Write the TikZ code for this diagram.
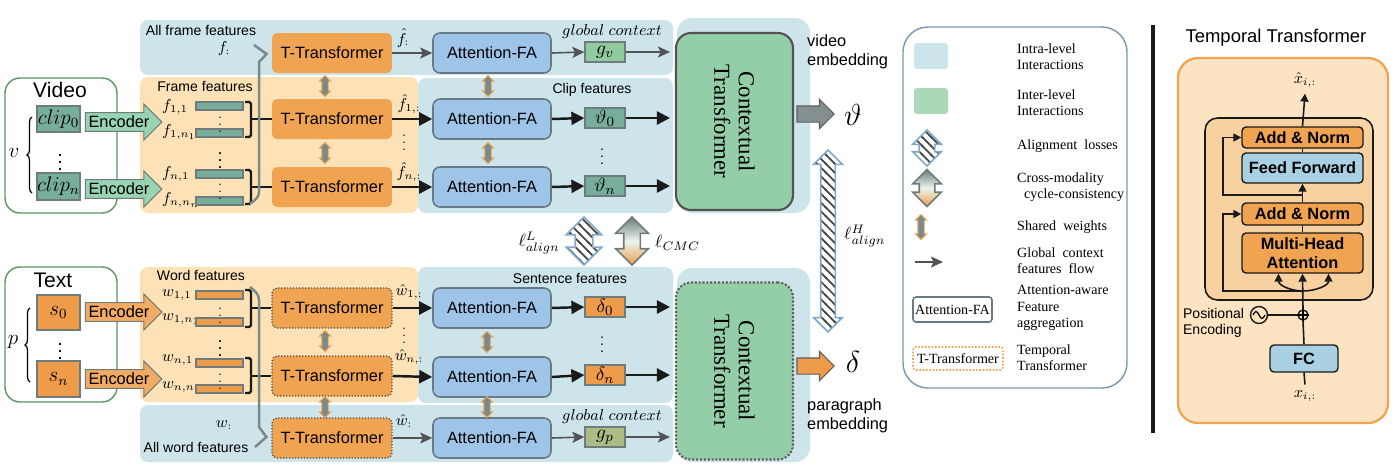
\documentclass[tikz,border=0pt]{standalone}
\usepackage{amsmath}
\usepackage{fontspec}
\setmainfont{Liberation Sans}
\newfontfamily\legendfont{Liberation Serif}
\usetikzlibrary{arrows.meta,calc,positioning,shapes.arrows,patterns,decorations.pathreplacing}
\definecolor{RegionBlue}{HTML}{CDE5EA}
\definecolor{RegionOrange}{HTML}{FCE2B6}
\definecolor{TOrange}{HTML}{F0A452}
\definecolor{AttnBlue}{HTML}{9EC5E8}
\definecolor{AttnEdge}{HTML}{667985}
\definecolor{CTGreen}{HTML}{93CEA9}
\definecolor{Ink}{HTML}{1A1A1A}
\definecolor{Teal}{HTML}{77AD9B}
\definecolor{EdgeGray}{HTML}{6E7C7C}
\definecolor{EncGreen}{HTML}{98D3B2}
\definecolor{SOrange}{HTML}{EE9C4A}
\definecolor{GGreen}{HTML}{8FCB9F}
\definecolor{AlignBlue}{HTML}{7FA9CC}
\definecolor{PanelOrange}{HTML}{FCE4C2}
\definecolor{FFBlue}{HTML}{A9D1E3}
\newcommand{\lblsize}{\fontsize{9.3}{11}\selectfont}
\newcommand{\regsize}{\fontsize{8}{9.5}\selectfont}
\newcommand{\mathsize}{\fontsize{9}{11}\selectfont}
\newcommand{\legsize}{\legendfont\fontsize{8}{9.3}\selectfont}
\pgfdeclarepatternformonly{alignstripes}{\pgfqpoint{-1pt}{-1pt}}{\pgfqpoint{6pt}{6pt}}{\pgfqpoint{5pt}{5pt}}{%
  \pgfsetlinewidth{1pt}
  \pgfpathmoveto{\pgfqpoint{-0.5pt}{5.5pt}}
  \pgfpathlineto{\pgfqpoint{5.5pt}{-0.5pt}}
  \pgfusepath{stroke}}

\begin{document}
\begin{tikzpicture}[x=0.02cm,y=-0.02cm,
    ttrans/.style={fill=TOrange,rounded corners=0.1cm,minimum width=2.4cm,minimum height=0.8cm,font=\lblsize},
    ttransdot/.style={ttrans,draw=Ink!80,densely dotted,line width=0.7pt},
    attnfa/.style={fill=AttnBlue,draw=AttnEdge,line width=0.9pt,rounded corners=0.14cm,minimum width=2.36cm,minimum height=0.8cm,font=\lblsize},
    featbox/.style={draw=EdgeGray,line width=0.7pt,minimum width=0.8cm,minimum height=0.4cm,inner sep=0pt,font=\fontsize{11}{13}\selectfont},
    bar/.style={draw=EdgeGray,line width=0.7pt,minimum width=0.94cm,minimum height=0.16cm,inner sep=0pt},
    inbox/.style={draw=EdgeGray,line width=0.7pt,minimum width=0.86cm,inner sep=0pt,font=\fontsize{11.5}{13}\selectfont},
    flabel/.style={anchor=west,inner sep=0.5pt,font=\fontsize{8.6}{10}\selectfont},
    encarrow/.style={single arrow,draw=EdgeGray,line width=0.6pt,minimum height=1.36cm,minimum width=0.72cm,single arrow head extend=0.17cm,inner sep=1.5pt,font=\lblsize},
    outarrow/.style={single arrow,draw=Ink!70,line width=0.6pt,minimum height=0.74cm,minimum width=0.56cm,single arrow head extend=0.13cm,inner xsep=0pt,inner ysep=0.15cm},
    ctrans/.style={draw=Ink!75,line width=1.2pt,fill=CTGreen,rounded corners=0.3cm,minimum width=2.34cm,minimum height=3.54cm},
    flow/.style={-{Triangle[length=0.26cm,width=0.26cm]},line width=1.4pt,Ink},
    gflow/.style={-{Stealth[length=0.24cm,width=0.22cm,inset=0.05cm]},line width=0.9pt,Ink!75},
    brk/.style={line width=1.4pt,Ink,rounded corners=1pt},
    gather/.style={line width=0.05cm,EdgeGray!90},
    shared/.style={double arrow,rotate=90,fill=EdgeGray!90,draw=TOrange,line width=0.5pt,minimum height=0.42cm,minimum width=0.22cm,double arrow head extend=0.05cm,inner xsep=0pt,inner ysep=0.055cm},
    alignarrow/.style={double arrow,rotate=90,draw=AlignBlue,line width=0.9pt,pattern=alignstripes,pattern color=Ink!80,inner xsep=0pt},
    cmcarrow/.style={double arrow,rotate=90,draw=EdgeGray,line width=0.9pt,top color=EdgeGray,bottom color=SOrange,middle color=GGreen!20!white,inner xsep=0pt},
    legtext/.style={anchor=west,align=left,font=\legsize},
    tblock/.style={draw=Ink,line width=0.8pt,rounded corners=0.08cm,minimum width=2.42cm,font=\bfseries\lblsize,inner sep=0pt},
    tarrow/.style={-{Triangle[length=0.16cm,width=0.16cm]},line width=0.9pt,Ink},
    tline/.style={line width=0.9pt,Ink}]
  \useasboundingbox (0,0) rectangle (1400,471);

  % interaction regions
  \fill[RegionBlue,rounded corners=0.16cm] (140,20) rectangle (673,75);
  \fill[RegionOrange,rounded corners=0.16cm] (140,77) rectangle (418,213);
  \fill[RegionBlue,rounded corners=0.16cm] (418,78) rectangle (673,213);
  \fill[RegionBlue,rounded corners=0.3cm] (677,18) rectangle (810,213);
  \fill[RegionOrange,rounded corners=0.16cm] (140,267) rectangle (418,402);
  \fill[RegionBlue,rounded corners=0.16cm] (418,267) rectangle (673,403);
  \fill[RegionBlue,rounded corners=0.16cm] (140,405) rectangle (673,462);
  \fill[RegionBlue,rounded corners=0.3cm] (677,268) rectangle (810,462);

  \node[font=\regsize] (allf) at (201,30) {All frame features};
  \node[font=\regsize] (framef) at (205,86) {Frame features};
  \node[font=\regsize] (clipf) at (592,90) {Clip features};
  \node[font=\regsize] (wordf) at (201,275) {Word features};
  \node[font=\regsize] (sentf) at (570,278) {Sentence features};
  \node[font=\regsize] (allw) at (196,447) {All word features};

  % inputs
  \draw[draw=EdgeGray!80!green,line width=0.8pt,fill=white,rounded corners=0.3cm] (5,78) rectangle (117,213);
  \draw[draw=EdgeGray!80!green,line width=0.8pt,fill=white,rounded corners=0.3cm] (5,267) rectangle (117,402);
  \node[font=\fontsize{12}{14}\selectfont] (video) at (60,90) {Video};
  \node[font=\fontsize{12}{14}\selectfont] (text) at (53,280) {Text};
  \node[inbox,fill=Teal,minimum height=0.52cm] (clip0) at (58.5,119) {$clip_0$};
  \node[inbox,fill=Teal,minimum height=0.54cm] (clipn) at (58.5,186.5) {$clip_n$};
  \node[inbox,fill=SOrange,minimum height=0.7cm] (s0) at (58.5,312.5) {$s_0$};
  \node[inbox,fill=SOrange,minimum height=0.72cm] (sn) at (58.5,379) {$s_n$};
  \node[font=\fontsize{11}{13}\selectfont] (cdots) at (60,157) {$\vdots$};
  \node[font=\fontsize{11}{13}\selectfont] (sdots) at (60,346) {$\vdots$};
  \draw[decorate,decoration={brace,amplitude=0.1cm},line width=0.7pt] (32,193) -- (32,117);
  \draw[decorate,decoration={brace,amplitude=0.1cm},line width=0.7pt] (30,382) -- (30,308);
  \node[font=\fontsize{13}{15}\selectfont] (vlab) at (14,153) {$v$};
  \node[font=\fontsize{13}{15}\selectfont] (plab) at (13,342) {$p$};

  \node[encarrow,fill=EncGreen] (enc1) at (119,122) {Encoder};
  \node[encarrow,fill=EncGreen] (enc2) at (119,189) {Encoder};
  \node[encarrow,fill=SOrange!85] (enc3) at (119,312) {Encoder};
  \node[encarrow,fill=SOrange!85] (enc4) at (119,379) {Encoder};

  % frame and word features
  \node[flabel] (f11) at (161,107) {$f_{1,1}$};
  \node[flabel] (f1n) at (161,132) {$f_{1,n_1}$};
  \node[flabel] (fn1) at (161,174) {$f_{n,1}$};
  \node[flabel] (fnn) at (161,200) {$f_{n,n_n}$};
  \node[bar,fill=Teal] (bf11) at (219.5,106) {};
  \node[bar,fill=Teal] (bf1n) at (219.5,133) {};
  \node[bar,fill=Teal] (bfn1) at (219.5,174) {};
  \node[bar,fill=Teal] (bfnn) at (219.5,201) {};
  \node[flabel] (w11) at (161,295) {$w_{1,1}$};
  \node[flabel] (w1n) at (161,319) {$w_{1,n_1}$};
  \node[flabel] (wn1) at (161,360) {$w_{n,1}$};
  \node[flabel] (wnn) at (161,387) {$w_{n,n_n}$};
  \node[bar,fill=SOrange] (bw11) at (219.5,295) {};
  \node[bar,fill=SOrange] (bw1n) at (219.5,322) {};
  \node[bar,fill=SOrange] (bwn1) at (219.5,363) {};
  \node[bar,fill=SOrange] (bwnn) at (219.5,389) {};
  \foreach \yy/\fs in {120/7,155/10,187/7,311/7,343/10,377/7}
    \node[font=\fontsize{\fs}{\fs}\selectfont,inner sep=0pt] at (220,\yy) {$\vdots$};
  \node[font=\mathsize] (fall) at (224,49) {$f_{:}$};
  \node[font=\mathsize] (wall) at (224,425) {$w_{:}$};

  % temporal transformers
  \node[ttrans] (tt0) at (332,53) {T-Transformer};
  \node[ttrans] (tt1) at (332,119) {T-Transformer};
  \node[ttrans] (tt2) at (332,187) {T-Transformer};
  \node[ttransdot] (tw1) at (332,308) {T-Transformer};
  \node[ttransdot] (tw2) at (332,376) {T-Transformer};
  \node[ttransdot] (tw0) at (332,438) {T-Transformer};

  \draw[brk] (245,102) -- (251,102) -- (251,137) -- (245,137);
  \draw[brk] (245,170) -- (251,170) -- (251,204) -- (245,204);
  \draw[brk] (245,290) -- (251,290) -- (251,327) -- (245,327);
  \draw[brk] (245,358) -- (251,358) -- (251,393) -- (245,393);
  \coordinate (g1) at (251,119);
  \coordinate (g2) at (251,187);
  \coordinate (g3) at (251,308);
  \coordinate (g4) at (251,376);
  \draw[brk] (g1) -- (tt1.west);
  \draw[brk] (g2) -- (tt2.west);
  \draw[brk] (g3) -- (tw1.west);
  \draw[brk] (g4) -- (tw2.west);
  \draw[gather] (254,45) -- ($(tt0.west)+(-5,1)$) -- (259,62) -- (259,192) to[out=-90,in=40] (250,204);
  \draw[gather] (250,287) to[out=-40,in=90] (259,300) -- (259,427) -- ($(tw0.west)+(-5,-1)$) -- (255,447);

  % attention-aware feature aggregation
  \node[attnfa] (af0) at (492,53) {Attention-FA};
  \node[attnfa] (af1) at (492,119) {Attention-FA};
  \node[attnfa] (af2) at (492,187) {Attention-FA};
  \node[attnfa] (aw1) at (492,308) {Attention-FA};
  \node[attnfa] (aw2) at (492,377) {Attention-FA};
  \node[attnfa] (aw0) at (492,438) {Attention-FA};

  \foreach \xx/\yy in {325/86,325/153,488/86,488/153,325/341,325/407,487/342,487/407}
    \node[shared] at (\xx,\yy) {};

  \draw[gflow] (tt0.east) -- (af0.west);
  \draw[flow] (tt1.east) -- (af1.west);
  \draw[flow] (tt2.east) -- (af2.west);
  \draw[flow] (tw1.east) -- (aw1.west);
  \draw[flow] (tw2.east) -- (aw2.west);
  \draw[gflow] (tw0.east) -- (aw0.west);
  \node[font=\mathsize,inner sep=1pt] (hf0) at (403,38) {$\hat{f}_{:}$};
  \node[font=\mathsize,inner sep=1pt] (hf1) at (409,104) {$\hat{f}_{1,:}$};
  \node[font=\mathsize,inner sep=1pt] (hf2) at (409,172) {$\hat{f}_{n,:}$};
  \node[font=\mathsize,inner sep=1pt] (hw1) at (409,292) {$\hat{w}_{1,:}$};
  \node[font=\mathsize,inner sep=1pt] (hw2) at (409,357) {$\hat{w}_{n,:}$};
  \node[font=\mathsize,inner sep=1pt] (hw0) at (404,421) {$\hat{w}_{:}$};
  \node[font=\fontsize{7}{7}\selectfont,inner sep=0pt] at (404,138) {$\vdots$};
  \node[font=\fontsize{7}{7}\selectfont,inner sep=0pt] at (404,331) {$\vdots$};

  % clip, sentence and global features
  \node[featbox,fill=GGreen] (gv) at (605,52) {$g_{v}$};
  \node[featbox,fill=Teal] (v0) at (605,118) {$\vartheta_0$};
  \node[featbox,fill=Teal] (vn) at (605,186) {$\vartheta_n$};
  \node[featbox,fill=SOrange] (d0) at (605,307) {$\delta_0$};
  \node[featbox,fill=SOrange] (dn) at (605,375) {$\delta_n$};
  \node[featbox,fill=GGreen!70!SOrange] (gp) at (605,437) {$g_{p}$};
  \node[font=\fontsize{8}{8}\selectfont,inner sep=0pt] at (602,151) {$\vdots$};
  \node[font=\fontsize{8}{8}\selectfont,inner sep=0pt] at (602,339) {$\vdots$};
  \node[font=\mathsize] (gctx1) at (612,32) {$global\ context$};
  \node[font=\mathsize] (gctx2) at (612,417) {$global\ context$};

  % contextual transformers
  \node[ctrans] (ctv) at (734.5,121.5) {};
  \node[ctrans,draw=Ink!70,densely dotted] (ctp) at (734.5,371) {};
  \node[rotate=-90,align=center,font=\legendfont\fontsize{13}{14}\selectfont] at (ctv.center) {Contextual\\Transformer};
  \node[rotate=-90,align=center,font=\legendfont\fontsize{13}{14}\selectfont] at (ctp.center) {Contextual\\Transformer};

  \draw[gflow] (af0.east) -- (gv.west);
  \draw[flow] (af1.east) -- (v0.west);
  \draw[flow] (af2.east) -- (vn.west);
  \draw[flow] (aw1.east) -- (d0.west);
  \draw[flow] (aw2.east) -- (dn.west);
  \draw[gflow] (aw0.east) -- (gp.west);
  \draw[gflow,shorten >=0.1cm] (gv.east) -- (gv.east -| ctv.west);
  \draw[flow,shorten >=0.1cm] (v0.east) -- (v0.east -| ctv.west);
  \draw[flow,shorten >=0.1cm] (vn.east) -- (vn.east -| ctv.west);
  \draw[flow,shorten >=0.1cm] (d0.east) -- (d0.east -| ctp.west);
  \draw[flow,shorten >=0.1cm] (dn.east) -- (dn.east -| ctp.west);
  \draw[gflow,shorten >=0.1cm] (gp.east) -- (gp.east -| ctp.west);

  % embeddings
  \node[outarrow,fill=EdgeGray!85] (outv) at (811.5,114) {};
  \node[outarrow,fill=SOrange] (outp) at (811.5,366) {};
  \node[font=\fontsize{17}{20}\selectfont] (emv) at (853,115) {$\vartheta$};
  \node[font=\fontsize{17}{20}\selectfont] (emp) at (853,362) {$\delta$};
  \node[anchor=west,align=left,font=\lblsize] (vemb) at (801,52) {video\\embedding};
  \node[anchor=west,align=left,font=\lblsize] (pemb) at (801,416) {paragraph\\embedding};

  % losses
  \node[alignarrow,minimum height=0.96cm,minimum width=0.68cm,double arrow head extend=0.18cm,inner ysep=0.16cm] (alL) at (584,241) {};
  \node[cmcarrow,minimum height=0.96cm,minimum width=0.62cm,double arrow head extend=0.16cm,inner ysep=0.15cm] (cmc) at (632,241) {};
  \node[alignarrow,minimum height=3.64cm,minimum width=0.54cm,double arrow head extend=0.14cm,inner ysep=0.13cm] (alH) at (828,241) {};
  \node[anchor=east,font=\fontsize{10}{12}\selectfont] (lL) at (566,243) {$\ell^{L}_{align}$};
  \node[anchor=west,font=\fontsize{10}{12}\selectfont] (lC) at (649,243) {$\ell_{CMC}$};
  \node[anchor=west,font=\fontsize{10}{12}\selectfont] (lH) at (838,236) {$\ell^{H}_{align}$};

  % legend
  \draw[AlignBlue!60!EdgeGray,line width=0.8pt,rounded corners=0.5cm] (903,27) rectangle (1127,388);
  \fill[RegionBlue,rounded corners=0.06cm] (914,43) rectangle (948,69);
  \fill[GGreen!75!white,rounded corners=0.06cm] (914,88) rectangle (948,114);
  \node[alignarrow,minimum height=0.72cm,minimum width=0.54cm,double arrow head extend=0.13cm,inner ysep=0.14cm] (lgal) at (927,148) {};
  \node[cmcarrow,minimum height=0.74cm,minimum width=0.54cm,double arrow head extend=0.13cm,inner ysep=0.14cm] (lgcmc) at (927,188) {};
  \node[shared,minimum height=0.5cm] (lgsw) at (921,227) {};
  \coordinate (lgf1) at (915,262);
  \coordinate (lgf2) at (943,262);
  \draw[gflow] (lgf1) -- (lgf2);
  \node[draw=AttnEdge,line width=0.9pt,fill=white,rounded corners=0.06cm,minimum width=1.58cm,minimum height=0.5cm,inner sep=1pt,font=\legsize] (lgaf) at (952.5,309.5) {Attention-FA};
  \node[draw=TOrange,densely dotted,line width=0.9pt,fill=white,rounded corners=0.06cm,minimum width=1.8cm,minimum height=0.46cm,inner sep=1pt,font=\legsize] (lgtt) at (958,358.5) {T-Transformer};
  \node[legtext] at (1011,57) {Intra-level\\Interactions};
  \node[legtext] at (1011,103) {Inter-level\\Interactions};
  \node[legtext] at (1011,146) {Alignment\ \ losses};
  \node[legtext] at (1011,187) {Cross-modality\\\hspace{0.14cm}cycle-consistency};
  \node[legtext] at (1011,227) {Shared\ \ weights};
  \node[legtext] at (1011,261) {Global\ \ context\\features\ \ flow};
  \node[legtext] at (1011,308) {Attention-aware\\Feature\\aggregation};
  \node[legtext] at (1011,358) {Temporal\\Transformer};

  % temporal transformer panel
  \draw[line width=0.08cm,Ink] (1153,25) -- (1153,433);
  \node[font=\fontsize{10.5}{12}\selectfont] (ttitle) at (1276,38) {Temporal Transformer};
  \draw[TOrange,line width=1.3pt,fill=PanelOrange,rounded corners=0.4cm] (1178,58) rectangle (1388,423);
  \draw[Ink,line width=0.9pt,fill=TOrange!30!PanelOrange,rounded corners=0.25cm] (1205,118) rectangle (1373,300);
  \node[tblock,fill=TOrange,minimum height=0.42cm] (an1) at (1302.5,137.5) {Add \& Norm};
  \node[tblock,fill=FFBlue,minimum height=0.6cm] (ff) at (1302.5,168) {Feed Forward};
  \node[tblock,fill=TOrange,minimum height=0.44cm] (an2) at (1302.5,214) {Add \& Norm};
  \node[tblock,fill=TOrange,minimum height=0.8cm,align=center] (mha) at (1302.5,253) {Multi-Head\\Attention};
  \node[tblock,fill=FFBlue,minimum width=1.36cm,minimum height=0.54cm] (fc) at (1304,358.5) {FC};
  \node[font=\mathsize] (xhat) at (1305,80) {$\hat{x}_{i,:}$};
  \node[font=\mathsize] (xin) at (1305,396) {$x_{i,:}$};
  \node[circle,draw=Ink,line width=0.8pt,minimum size=0.34cm,inner sep=0pt] (pe) at (1259,315) {};
  \node[circle,draw=Ink,line width=0.8pt,minimum size=0.2cm,inner sep=0pt] (plus) at (1303,315) {};
  \draw[line width=0.6pt] (plus.north) -- (plus.south) (plus.west) -- (plus.east);
  \draw[line width=0.7pt] ([xshift=-0.12cm]pe.center) sin ([xshift=-0.06cm,yshift=0.07cm]pe.center) cos (pe.center) sin ([xshift=0.06cm,yshift=-0.07cm]pe.center) cos ([xshift=0.12cm]pe.center);
  \node[anchor=west,align=left,inner sep=1pt,font=\fontsize{8}{9.5}\selectfont] (pelab) at (1181,323) {Positional\\Encoding};
  \coordinate (split1) at (1303,291);
  \coordinate (split2) at (1303,195);
  \draw[tline] (xin.north) -- (fc.south);
  \draw[tline] (fc.north) -- (plus.south);
  \draw[tline] (pe.east) -- (plus.west);
  \draw[tarrow] (plus.north) -- (mha.south);
  \draw[tarrow] (split1) to[out=180,in=-90] ([xshift=-0.48cm]mha.south);
  \draw[tarrow] (split1) to[out=0,in=-90] ([xshift=0.52cm]mha.south);
  \draw[tarrow] (split1) -- (1223,291) |- (an2.west);
  \draw[tline] (mha.north) -- (an2.south);
  \draw[tarrow] (an2.north) -- (ff.south);
  \draw[tarrow] (split2) -- (1223,195) |- (an1.west);
  \draw[tline] (ff.north) -- (an1.south);
  \draw[tarrow] (an1.north) -- (xhat.south);
\end{tikzpicture}
\end{document}
